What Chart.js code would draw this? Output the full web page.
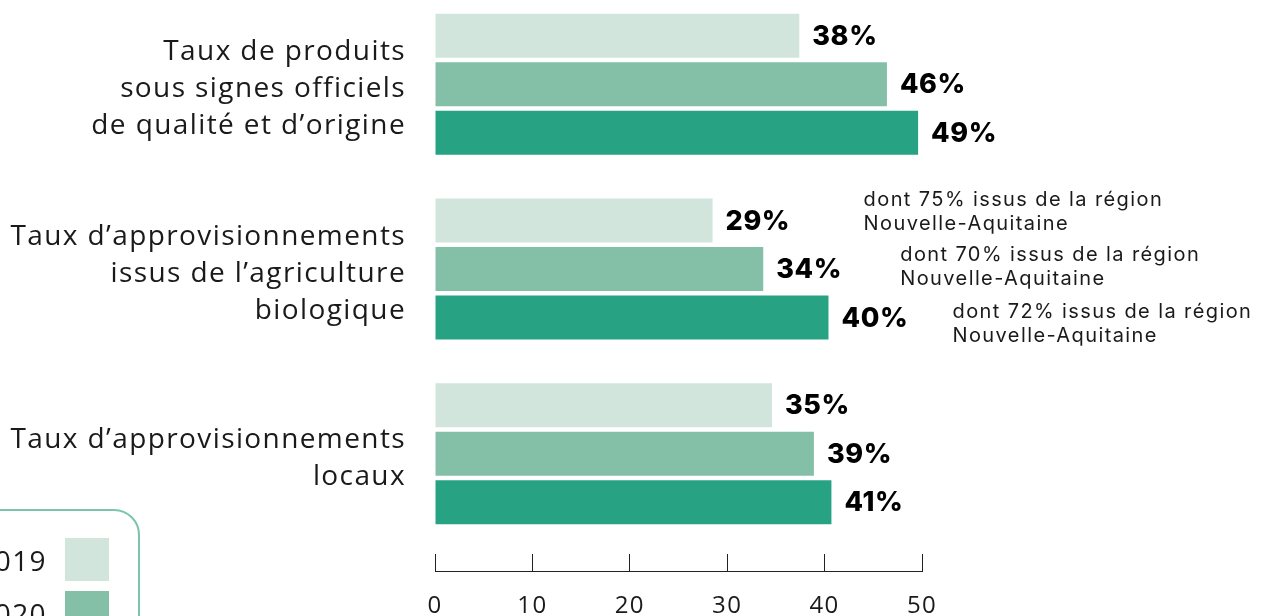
<!DOCTYPE html>
<html>
<head>
<meta charset="utf-8">
<script src="https://cdn.jsdelivr.net/npm/chart.js@4/dist/chart.umd.min.js"></script>
<style>
  html, body { margin: 0; padding: 0; background: #fff; overflow: hidden; }
  body { width: 1263px; height: 616px; position: relative; }
  #wrap { position: absolute; left: 0; top: -8px; width: 1263px; height: 634px; }
  #legend {
    position: absolute; left: -80px; top: 509px; width: 220px; height: 200px;
    border: 2.5px solid #7cc5ad; border-radius: 26px; box-sizing: border-box;
    font-family: "Open Sans", sans-serif; font-size: 28px; letter-spacing: 1.4px; color: #1a1a1a;
  }
  .row { position: absolute; left: 0; display: flex; align-items: center; }
  .row span { width: 125px; text-align: right; }
  .row i { display: block; width: 44px; height: 43px; margin-left: 18px; }
</style>
</head>
<body>
<div id="wrap"><canvas id="chart"></canvas></div>
<div id="legend"></div>
<script>
const categories = [
  ["Taux de produits", "sous signes officiels", "de qualité et d’origine"],
  ["Taux d’approvisionnements", "issus de l’agriculture", "biologique"],
  ["Taux d’approvisionnements", "locaux"]
];
const years = ["2019", "2020", "2021"];
const colors = ["#d1e5dd", "#84bfa8", "#27a383"];

// bar lengths, labels as printed
const values2019 = [37.4, 28.5, 34.6];
const values2020 = [46.4, 33.7, 38.9];
const values2021 = [49.6, 40.4, 40.7];
const labels2019 = ["38%", "29%", "35%"];
const labels2020 = ["46%", "34%", "39%"];
const labels2021 = ["49%", "40%", "41%"];

const notes2019 = [null, ["dont 75% issus de la région", "Nouvelle-Aquitaine"], null];
const notes2020 = [null, ["dont 70% issus de la région", "Nouvelle-Aquitaine"], null];
const notes2021 = [null, ["dont 72% issus de la région", "Nouvelle-Aquitaine"], null];

const xTicks = [0, 10, 20, 30, 40, 50];

const allValues = [values2019, values2020, values2021];
const allLabels = [labels2019, labels2020, labels2021];
const allNotes = [notes2019, notes2020, notes2021];
const noteDx = [151, 137, 124];
const noteDy = [-9, -2, 6];

const datasets = years.map((y, i) => ({
  label: y,
  data: allValues[i],
  backgroundColor: colors[i],
  borderWidth: 0,
  categoryPercentage: 0.788,
  barPercentage: 0.907
}));

// legend (partly off the page, like the reference)
const legendE = document.getElementById("legend");
years.forEach((y, i) => {
  const row = document.createElement("div");
  row.className = "row";
  row.style.top = (27 + i * 53) + "px";
  row.innerHTML = `<span>${y}</span><i style="background:${colors[i]}"></i>`;
  legendE.appendChild(row);
});

const labelPlugin = {
  id: "valueLabels",
  beforeDraw(chart) {
    chart.ctx.letterSpacing = "1.4px";
  },
  afterDatasetsDraw(chart) {
    const ctx = chart.ctx;
    ctx.save();
    ctx.textBaseline = "middle";
    ctx.textAlign = "left";
    chart.data.datasets.forEach((ds, i) => {
      const meta = chart.getDatasetMeta(i);
      meta.data.forEach((bar, j) => {
        ctx.fillStyle = "#000";
        ctx.font = "800 27px Inter, sans-serif";
        ctx.letterSpacing = "0.6px";
        ctx.fillText(allLabels[i][j], bar.x + 13, bar.y + 1);
        const note = allNotes[i][j];
        if (note) {
          ctx.fillStyle = "#1a1a1a";
          ctx.font = "20px Inter, sans-serif";
          ctx.letterSpacing = "1.4px";
          note.forEach((line, k) => {
            ctx.fillText(line, bar.x + noteDx[i], bar.y + noteDy[i] + (k - 0.5) * 24);
          });
        }
      });
    });
    // x axis baseline under the tick marks
    const xs = chart.scales.x;
    const y = Math.round(xs.top + 26) - 0.5;
    ctx.strokeStyle = "#222";
    ctx.lineWidth = 1;
    ctx.beginPath();
    ctx.moveTo(xs.getPixelForValue(xTicks[0]), y);
    ctx.lineTo(xs.getPixelForValue(xTicks[xTicks.length - 1]) + 1, y);
    ctx.stroke();
    ctx.restore();
  },
  afterDraw(chart) {
    chart.ctx.letterSpacing = "0px";
  }
};

new Chart(document.getElementById("chart"), {
  type: "bar",
  data: { labels: categories, datasets: datasets },
  options: {
    indexAxis: "y",
    responsive: true,
    maintainAspectRatio: false,
    animation: false,
    layout: { padding: { left: 0, right: 341, top: 0, bottom: 0 } },
    plugins: { legend: { display: false }, tooltip: { enabled: false } },
    scales: {
      x: {
        min: 0,
        max: 50,
        afterBuildTicks(scale) { scale.ticks = xTicks.map(v => ({ value: v })); },
        afterFit(scale) { scale.height = 80; },
        border: { display: false },
        grid: {
          drawOnChartArea: false,
          drawTicks: true,
          tickLength: 26,
          tickColor: "#222",
          tickWidth: 1,
          tickBorderDash: [18, 8],
          tickBorderDashOffset: 18
        },
        ticks: {
          padding: 20,
          color: "#1a1a1a",
          font: { family: "'Open Sans', sans-serif", size: 24 }
        }
      },
      y: {
        afterFit(scale) {
          scale.width = 435;
          scale.paddingTop = 0;
          scale.paddingBottom = 0;
        },
        border: { display: false },
        grid: { display: false, drawTicks: false },
        ticks: {
          padding: 29,
          labelOffset: 5,
          color: "#1a1a1a",
          font: { family: "'Open Sans', sans-serif", size: 28, lineHeight: 1.32 }
        }
      }
    }
  },
  plugins: [labelPlugin]
});
</script>
</body>
</html>
